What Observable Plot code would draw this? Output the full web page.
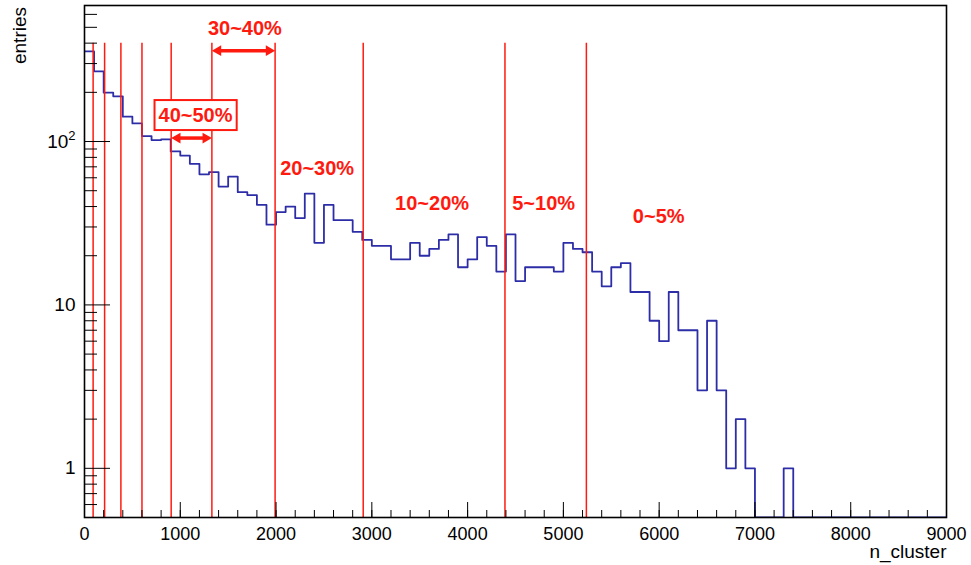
<!DOCTYPE html>
<html>
<head>
<meta charset="utf-8">
<script src="https://cdn.jsdelivr.net/npm/d3@7"></script>
<script src="https://cdn.jsdelivr.net/npm/@observablehq/plot@0.6"></script>
<style>
  body { margin: 0; background: #fff; }
</style>
</head>
<body>
<div id="chart"></div>
<script>
// Entries per n_cluster bin (bins are 100 wide, starting at 0)
const binWidth = 100;
const counts = [
  356, 269, 199, 189, 142, 129, 108, 102, 103, 87,
  82, 73, 63, 65, 53, 61, 49, 47, 41, 31,
  37, 40, 34, 48, 24, 41, 33, 33, 28, 25,
  23, 23, 19, 19, 24, 20, 22, 25, 27, 17,
  19, 26, 23, 16, 27, 14, 17, 17, 17, 16,
  24, 22, 21, 16, 13, 17, 18, 12, 12, 8,
  6, 12, 7, 7, 3, 8, 3, 1, 2, 1,
  0, 0, 0, 1, 0, 0, 0, 0, 0, 0,
  0, 0, 0, 0, 0, 0, 0, 0, 0, 0
];

// Centrality class boundaries in n_cluster
const cuts = [90, 210, 380, 600, 905, 1330, 1990, 2910, 4390, 5240];
const cutTop = 400;

// Class labels
const rangeLabels = [
  {x: 1675, y: 491, text: "30~40%"},
  {x: 2429, y: 68, text: "20~30%"},
  {x: 3629, y: 41.9, text: "10~20%"},
  {x: 4794, y: 41.9, text: "5~10%"},
  {x: 5995, y: 34.7, text: "0~5%"}
];
const boxedLabels = [{x: 1159, y: 144, text: "40~50%"}];

// Double-headed arrows spanning a class
const arrows = [
  {x1: 1330, x2: 1990, y: 360},
  {x1: 905, x2: 1330, y: 105}
];

// Axis ticks
const xMajor = [0, 1000, 2000, 3000, 4000, 5000, 6000, 7000, 8000, 9000];
const xMinor = d3.range(0, 9001, 200);
const yMajor = [1, 10, 100];
const yMinor = [0.6, 0.7, 0.8, 0.9, 2, 3, 4, 5, 6, 7, 8, 9,
                20, 30, 40, 50, 60, 70, 80, 90, 200, 300, 400, 500, 600];

const yMin = 0.5, yMax = 680;
const red = "#ff1a10";
const blue = "#2d2da8";

// Outline of the histogram as a step path; empty bins drop to the floor
const steps = counts.flatMap((c, i) => {
  const v = c > 0 ? c : yMin;
  return [{x: i * binWidth, y: v}, {x: (i + 1) * binWidth, y: v}];
});

const chart = Plot.plot({
  width: 971,
  height: 565,
  marginLeft: 84,
  marginRight: 25,
  marginTop: 5,
  marginBottom: 48,
  style: {
    fontFamily: "'Liberation Sans', Arial, Helvetica, sans-serif",
    background: "#fff",
    color: "#000",
    overflow: "visible"
  },
  x: {domain: [0, 9000]},
  y: {type: "log", domain: [yMin, yMax]},
  marks: [
    Plot.line(steps, {x: "x", y: "y", stroke: blue, strokeWidth: 1.8, clip: true}),
    Plot.ruleX(cuts, {x: d => d, y1: yMin, y2: cutTop, stroke: red, strokeWidth: 1.5}),
    Plot.ruleY(arrows, {x1: "x1", x2: "x2", y: "y", stroke: red, strokeWidth: 3.5, insetLeft: 5, insetRight: 5}),
    Plot.dot(arrows, {x: "x2", y: "y", symbol: "triangle", r: 4, rotate: 90, dx: -6.2, fill: red, stroke: "none"}),
    Plot.dot(arrows, {x: "x1", y: "y", symbol: "triangle", r: 4, rotate: -90, dx: 6.2, fill: red, stroke: "none"}),
    Plot.text(rangeLabels, {x: "x", y: "y", text: "text", fill: red, fontSize: 20, fontWeight: "bold"}),
    Plot.text(boxedLabels, {x: "x", y: "y", text: "text", fill: red, fontSize: 20, fontWeight: "bold",
      ariaDescription: "boxed range"}),
    // axes with inward ticks
    Plot.axisX(xMinor, {anchor: "bottom", tickSize: -7, fill: "none", label: null}),
    Plot.axisX(xMajor, {anchor: "bottom", tickSize: -15, tickPadding: 24.5, fontSize: 18,
      tickFormat: d => String(d), label: null}),
    Plot.axisY(yMinor, {anchor: "left", tickSize: -13, fill: "none", label: null}),
    Plot.axisY(yMajor, {anchor: "left", tickSize: -26, tickPadding: 35, fontSize: 19,
      tickFormat: d => d === 100 ? "10^2" : String(d), label: null}),
    Plot.text(["entries"], {frameAnchor: "top-left", text: d => d, rotate: -90, textAnchor: "end",
      dx: -72, dy: 1.5, fontSize: 19, fill: "#000"}),
    Plot.text(["n_cluster"], {frameAnchor: "bottom-right", text: d => d, textAnchor: "end",
      dy: 40.5, fontSize: 19, fill: "#000"}),
    Plot.frame({stroke: "#000", strokeWidth: 1.6})
  ]
});

document.getElementById("chart").append(chart);

const svgNS = "http://www.w3.org/2000/svg";

// Power-of-ten tick label drawn with a raised exponent
chart.querySelectorAll("text").forEach(t => {
  const m = /^(\d+)\^(\d+)$/.exec(t.textContent);
  if (!m) return;
  t.textContent = m[1];
  const sup = document.createElementNS(svgNS, "tspan");
  sup.setAttribute("dy", "-7.5");
  sup.setAttribute("font-size", "13");
  sup.textContent = m[2];
  t.appendChild(sup);
});

// White box with a red border behind the boxed class label
chart.querySelectorAll('g[aria-description="boxed range"] text').forEach(t => {
  const b = t.getBBox();
  const padX = 4, padY = 4;
  const rect = document.createElementNS(svgNS, "rect");
  rect.setAttribute("x", b.x - padX);
  rect.setAttribute("y", b.y - padY);
  rect.setAttribute("width", b.width + 2 * padX);
  rect.setAttribute("height", b.height + 2 * padY);
  rect.setAttribute("fill", "#fff");
  rect.setAttribute("stroke", red);
  rect.setAttribute("stroke-width", 2);
  if (t.getAttribute("transform")) rect.setAttribute("transform", t.getAttribute("transform"));
  t.parentNode.insertBefore(rect, t);
});
</script>
</body>
</html>
